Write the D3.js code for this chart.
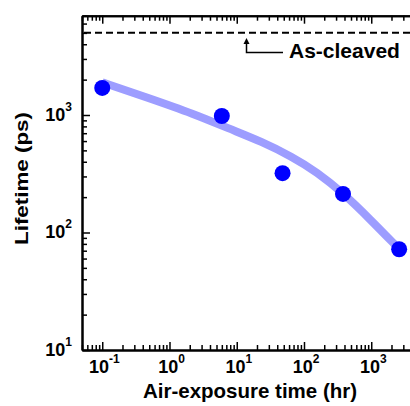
<!DOCTYPE html>
<html>
<head>
<meta charset="utf-8">
<script src="https://cdn.jsdelivr.net/npm/d3@7"></script>
<style>
  body { margin: 0; background: #fff; }
  svg { display: block; font-family: Arial, "Liberation Sans", sans-serif; font-weight: bold; }
</style>
</head>
<body>
<div id="chart"></div>
<script>
// measured lifetimes
var hours = [0.1, 6, 48, 380, 2600];
var lifetimes = [1700, 980, 320, 213, 72];

// fitted trend
var fitHours = [0.1, 0.43, 2.4, 7.4, 23.7, 66, 156, 380, 958, 2500];
var fitLifetimes = [1900, 1430, 1014, 771, 593, 442, 327, 217, 130, 74];

var asCleaved = 5000;
var xTickExps = [-1, 0, 1, 2, 3];
var yTickExps = [1, 2, 3];

var width = 410, height = 406;
var plotLeft = 82, plotTop = 15.7, plotBottom = 350;

var x = d3.scaleLog().domain([0.05, 7000]).range([plotLeft, plotLeft + 67.25 * Math.log10(7000 / 0.05)]);
var y = d3.scaleLog().domain([10, 7000]).range([plotBottom, plotTop]);

var svg = d3.select('#chart').append('svg')
  .attr('width', width)
  .attr('height', height);

function minors(lo, hi) {
  var out = [];
  for (var e = lo; e <= hi; e++) {
    for (var m = 2; m <= 9; m++) out.push(m * Math.pow(10, e));
  }
  return out;
}
var xMinor = minors(-2, 3).filter(function(v) { return v >= 0.05 && v <= 7000; });
var yMinor = minors(1, 3).filter(function(v) { return v <= 7000; });
var xMajor = xTickExps.map(function(e) { return Math.pow(10, e); });
var yMajor = yTickExps.map(function(e) { return Math.pow(10, e); });

function styleAxis(g) {
  g.selectAll('text').remove();
  g.select('.domain').attr('stroke-width', 2).attr('stroke', '#000');
  g.selectAll('.tick line').attr('stroke-width', 1.5).attr('stroke', '#000');
}

// bottom axis, ticks pointing in
svg.append('g').attr('transform', 'translate(0,' + plotBottom + ')')
  .call(d3.axisBottom(x).tickValues(xMajor).tickSizeInner(-8).tickSizeOuter(0)).call(styleAxis);
svg.append('g').attr('transform', 'translate(0,' + plotBottom + ')')
  .call(d3.axisBottom(x).tickValues(xMinor).tickSizeInner(-5).tickSizeOuter(0)).call(styleAxis);

// top axis
svg.append('g').attr('transform', 'translate(0,' + plotTop + ')')
  .call(d3.axisTop(x).tickValues(xMajor).tickSizeInner(-8).tickSizeOuter(0)).call(styleAxis);
svg.append('g').attr('transform', 'translate(0,' + plotTop + ')')
  .call(d3.axisTop(x).tickValues(xMinor).tickSizeInner(-5).tickSizeOuter(0)).call(styleAxis);

// left axis
svg.append('g').attr('transform', 'translate(' + plotLeft + ',0)')
  .call(d3.axisLeft(y).tickValues(yMajor).tickSizeInner(-8).tickSizeOuter(0)).call(styleAxis);
svg.append('g').attr('transform', 'translate(' + plotLeft + ',0)')
  .call(d3.axisLeft(y).tickValues(yMinor).tickSizeInner(-5).tickSizeOuter(0)).call(styleAxis);

// tick labels with superscripts
var xl = svg.append('g').selectAll('text').data(xTickExps).enter().append('text')
  .attr('x', function(d) { return x(Math.pow(10, d)) + 2; })
  .attr('y', 373)
  .attr('text-anchor', 'middle')
  .style('font-size', '18px');
xl.append('tspan').text('10');
xl.append('tspan').attr('dy', -10).style('font-size', '12px').text(function(d) { return d; });

var yl = svg.append('g').selectAll('text').data(yTickExps).enter().append('text')
  .attr('x', 72)
  .attr('y', function(d) { return y(Math.pow(10, d)) + 6; })
  .attr('text-anchor', 'end')
  .style('font-size', '18px');
yl.append('tspan').text('10');
yl.append('tspan').attr('dy', -10).style('font-size', '12px').text(function(d) { return d; });

// axis titles
svg.append('text')
  .attr('x', 250).attr('y', 398)
  .attr('text-anchor', 'middle')
  .style('font-size', '20.5px')
  .text('Air-exposure time (hr)');

svg.append('text')
  .attr('transform', 'translate(28,178.5) rotate(-90)')
  .attr('text-anchor', 'middle')
  .attr('textLength', 133)
  .attr('lengthAdjust', 'spacingAndGlyphs')
  .style('font-size', '18.5px')
  .text('Lifetime (ps)');

// as-cleaved reference
svg.append('line')
  .attr('x1', plotLeft + 2).attr('x2', width)
  .attr('y1', y(asCleaved)).attr('y2', y(asCleaved))
  .attr('stroke', '#000').attr('stroke-width', 2)
  .attr('stroke-dasharray', '7,4');

svg.append('path')
  .attr('d', 'M283,52.5H246.5V42')
  .attr('fill', 'none').attr('stroke', '#000').attr('stroke-width', 1.5);
svg.append('path')
  .attr('d', 'M243.5,44L246.5,38L249.5,44Z')
  .attr('fill', '#000');
svg.append('text')
  .attr('x', 289).attr('y', 57.5)
  .style('font-size', '21px')
  .text('As-cleaved');

// fit curve
var fit = fitHours.map(function(h, i) { return [h, fitLifetimes[i]]; });
svg.append('path')
  .datum(fit)
  .attr('fill', 'none')
  .attr('stroke', '#9d9dff')
  .attr('stroke-width', 8)
  .attr('d', d3.line()
    .x(function(d) { return x(d[0]); })
    .y(function(d) { return y(d[1]); })
    .curve(d3.curveBasis));

// data points
svg.append('g').selectAll('circle').data(hours).enter().append('circle')
  .attr('cx', function(d) { return x(d); })
  .attr('cy', function(d, i) { return y(lifetimes[i]); })
  .attr('r', 8)
  .attr('fill', '#0000ff');
</script>
</body>
</html>
